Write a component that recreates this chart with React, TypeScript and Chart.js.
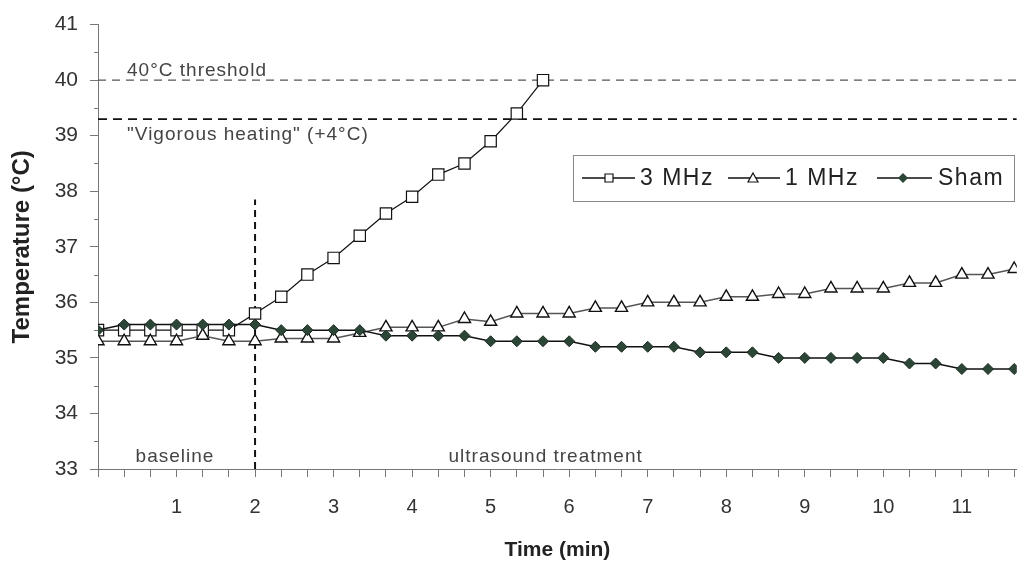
import React, { useEffect, useRef } from 'react';
import { Chart, registerables } from 'chart.js';

Chart.register(...registerables);

// ---- data ----
const TIME_S = [0, 20, 40, 60, 80, 100, 120, 140, 160, 180, 200, 220, 240, 260, 280, 300, 320, 340,
  360, 380, 400, 420, 440, 460, 480, 500, 520, 540, 560, 580, 600, 620, 640, 660, 680, 700];

const MHZ3 = [35.5, 35.5, 35.5, 35.5, 35.5, 35.5, 35.8, 36.1, 36.5, 36.8, 37.2, 37.6, 37.9, 38.3, 38.5, 38.9, 39.4, 40.0];

const MHZ1 = [35.3, 35.3, 35.3, 35.3, 35.4, 35.3, 35.3, 35.35, 35.35, 35.35, 35.45, 35.55, 35.55, 35.55,
  35.7, 35.65, 35.8, 35.8, 35.8, 35.9, 35.9, 36.0, 36.0, 36.0, 36.1, 36.1, 36.15, 36.15, 36.25, 36.25,
  36.25, 36.35, 36.35, 36.5, 36.5, 36.6];

const SHAM = [35.5, 35.6, 35.6, 35.6, 35.6, 35.6, 35.6, 35.5, 35.5, 35.5, 35.5, 35.4, 35.4, 35.4, 35.4,
  35.3, 35.3, 35.3, 35.3, 35.2, 35.2, 35.2, 35.2, 35.1, 35.1, 35.1, 35.0, 35.0, 35.0, 35.0, 35.0,
  34.9, 34.9, 34.8, 34.8, 34.8];

const Y_TICKS = [33, 34, 35, 36, 37, 38, 39, 40, 41];
const X_MIN = 0;
const X_MAX = 11.7;
const THRESHOLD = 40;
const VIGOROUS = 39.3;
const TREATMENT_START = 2;
const TREATMENT_LINE_TOP = 37.85;

const SERIES_NAMES = ['3 MHz', '1 MHz', 'Sham'];
const THRESHOLD_LABEL = '40°C threshold';
const VIGOROUS_LABEL = '"Vigorous heating" (+4°C)';
const BASELINE_LABEL = 'baseline';
const TREATMENT_LABEL = 'ultrasound treatment';

const FONT = '"Liberation Sans", Arial, Helvetica, sans-serif';
const SHAM_FILL = '#2b4536';

const toPoints = (vals: number[]) => vals.map((v, i) => ({ x: TIME_S[i] / 60, y: v }));

const extrasPlugin = {
  id: 'extras',
  afterDatasetsDraw(chart: any) {
    const { ctx, chartArea, scales } = chart;
    const xs = scales.x;
    const ys = scales.y;
    ctx.save();
    // minor y ticks
    ctx.strokeStyle = '#777';
    ctx.lineWidth = 1;
    for (let i = 0; i < Y_TICKS.length - 1; i++) {
      const v = (Y_TICKS[i] + Y_TICKS[i + 1]) / 2;
      const py = Math.round(ys.getPixelForValue(v)) + 0.5;
      ctx.beginPath();
      ctx.moveTo(chartArea.left - 4, py);
      ctx.lineTo(chartArea.left, py);
      ctx.stroke();
    }
    // annotation texts
    const texts = [
      { t: THRESHOLD_LABEL, x: 0.37, y: 40.17, align: 'left' },
      { t: VIGOROUS_LABEL, x: 0.37, y: 39.02, align: 'left' },
      { t: BASELINE_LABEL, x: 0.98, y: 33.22, align: 'center' },
      { t: TREATMENT_LABEL, x: 5.7, y: 33.22, align: 'center' },
    ];
    ctx.fillStyle = '#444';
    ctx.font = `19px ${FONT}`;
    (ctx as any).letterSpacing = '1px';
    ctx.textBaseline = 'middle';
    for (const a of texts) {
      ctx.textAlign = a.align;
      ctx.fillText(a.t, xs.getPixelForValue(a.x), ys.getPixelForValue(a.y));
    }
    ctx.restore();
  },
  afterDraw(chart: any) {
    const { ctx } = chart;
    ctx.save();
    // legend box
    const bx = 573, by = 155, bw = 441, bh = 46;
    ctx.fillStyle = '#fff';
    ctx.fillRect(bx, by, bw, bh);
    ctx.strokeStyle = '#888';
    ctx.lineWidth = 1;
    ctx.strokeRect(bx + 0.5, by + 0.5, bw, bh);
    const cy = by + bh / 2;
    const items = [
      { l0: 582, l1: 635, m: 609, tx: 640, style: 'rect' },
      { l0: 728, l1: 780, m: 753, tx: 785, style: 'triangle' },
      { l0: 877, l1: 932, m: 903, tx: 938, style: 'rectRot' },
    ];
    items.forEach((it, i) => {
      ctx.strokeStyle = '#111';
      ctx.lineWidth = 1.5;
      ctx.beginPath();
      ctx.moveTo(it.l0, cy);
      ctx.lineTo(it.l1, cy);
      ctx.stroke();
      ctx.beginPath();
      if (it.style === 'rect') {
        ctx.fillStyle = '#fff';
        ctx.rect(it.m - 4, cy - 4, 8, 8);
        ctx.fill();
        ctx.lineWidth = 1.2;
        ctx.stroke();
      } else if (it.style === 'triangle') {
        ctx.fillStyle = '#fff';
        ctx.moveTo(it.m, cy - 5);
        ctx.lineTo(it.m + 5, cy + 4);
        ctx.lineTo(it.m - 5, cy + 4);
        ctx.closePath();
        ctx.fill();
        ctx.lineWidth = 1.2;
        ctx.stroke();
      } else {
        ctx.fillStyle = SHAM_FILL;
        ctx.moveTo(it.m, cy - 5);
        ctx.lineTo(it.m + 5, cy);
        ctx.lineTo(it.m, cy + 5);
        ctx.lineTo(it.m - 5, cy);
        ctx.closePath();
        ctx.fill();
      }
      ctx.fillStyle = '#222';
      ctx.font = `23px ${FONT}`;
      (ctx as any).letterSpacing = '1.5px';
      ctx.textAlign = 'left';
      ctx.textBaseline = 'middle';
      ctx.fillText(SERIES_NAMES[i], it.tx, cy + 1);
      (ctx as any).letterSpacing = '0px';
    });
    ctx.restore();
  },
};

export default function App() {
  const canvasRef = useRef<HTMLCanvasElement | null>(null);

  useEffect(() => {
    const canvas = canvasRef.current;
    if (!canvas) return;
    const chart = new Chart(canvas, {
      type: 'line',
      data: {
        datasets: [
          {
            label: SERIES_NAMES[2],
            data: toPoints(SHAM),
            borderColor: '#111',
            borderWidth: 1.5,
            pointStyle: 'rectRot',
            pointRadius: 5.5,
            pointBackgroundColor: SHAM_FILL,
            pointBorderColor: '#1c2c22',
            pointBorderWidth: 1,
            order: 0,
          },
          {
            label: SERIES_NAMES[1],
            data: toPoints(MHZ1),
            borderColor: '#555',
            borderWidth: 1.5,
            pointStyle: 'triangle',
            pointRadius: 7,
            pointBackgroundColor: '#fff',
            pointBorderColor: '#111',
            pointBorderWidth: 1.4,
            order: 1,
          },
          {
            label: SERIES_NAMES[0],
            data: toPoints(MHZ3),
            borderColor: '#111',
            borderWidth: 1.2,
            pointStyle: 'rect',
            pointRadius: 8,
            pointBackgroundColor: '#fff',
            pointBorderColor: '#111',
            pointBorderWidth: 1.2,
            order: 2,
          },
          {
            label: 'threshold',
            data: [{ x: X_MIN, y: THRESHOLD }, { x: X_MAX, y: THRESHOLD }],
            borderColor: '#555',
            borderWidth: 1.3,
            borderDash: [8, 6],
            pointRadius: 0,
            order: 3,
          },
          {
            label: 'vigorous',
            data: [{ x: X_MIN, y: VIGOROUS }, { x: X_MAX, y: VIGOROUS }],
            borderColor: '#111',
            borderWidth: 1.8,
            borderDash: [9, 6],
            pointRadius: 0,
            order: 3,
          },
          {
            label: 'start',
            data: [{ x: TREATMENT_START, y: Y_TICKS[0] }, { x: TREATMENT_START, y: TREATMENT_LINE_TOP }],
            borderColor: '#111',
            borderWidth: 2,
            borderDash: [7, 5],
            pointRadius: 0,
            order: 3,
          },
        ],
      },
      options: {
        animation: false,
        responsive: true,
        maintainAspectRatio: false,
        devicePixelRatio: 1,
        layout: { padding: { top: 20, right: 6, left: 0, bottom: 0 } },
        plugins: {
          legend: { display: false },
          tooltip: { enabled: false },
        },
        elements: { line: { tension: 0 } },
        scales: {
          x: {
            type: 'linear',
            min: X_MIN,
            max: X_MAX,
            afterBuildTicks: (scale: any) => {
              scale.ticks = TIME_S.map((s) => ({ value: s / 60 }));
            },
            afterFit: (scale: any) => {
              scale.height = 107;
            },
            ticks: {
              autoSkip: false,
              maxRotation: 0,
              padding: 4,
              color: '#333',
              font: { family: FONT, size: 20, lineHeight: 2.6 },
              callback: (value: any) => {
                const r = Math.round(value);
                return Math.abs(value - r) < 1e-6 && r > 0 ? String(r) : '';
              },
            },
            grid: {
              display: true,
              drawOnChartArea: false,
              drawTicks: true,
              tickLength: 8,
              color: '#777',
            },
            border: { display: true, color: '#777', width: 1 },
            title: {
              display: true,
              text: 'Time (min)',
              color: '#222',
              font: { family: FONT, size: 21, weight: 'bold' },
              padding: { top: 0, bottom: 13 },
            },
          },
          y: {
            type: 'linear',
            min: Y_TICKS[0],
            max: Y_TICKS[Y_TICKS.length - 1],
            afterBuildTicks: (scale: any) => {
              scale.ticks = Y_TICKS.map((v) => ({ value: v }));
            },
            afterFit: (scale: any) => {
              scale.width = 98;
            },
            ticks: {
              padding: 12,
              color: '#333',
              font: { family: FONT, size: 21 },
              callback: (value: any) => String(value),
            },
            grid: {
              display: true,
              drawOnChartArea: false,
              drawTicks: true,
              tickLength: 8,
              color: '#777',
            },
            border: { display: true, color: '#777', width: 1 },
            title: {
              display: true,
              text: 'Temperature (°C)',
              color: '#222',
              font: { family: FONT, size: 24, weight: 'bold' },
              padding: { top: 8, bottom: 0 },
            },
          },
        },
      },
      plugins: [extrasPlugin],
    } as any);
    return () => chart.destroy();
  }, []);

  return (
    <div style={{ position: 'fixed', left: 0, top: 0, width: 1026, height: 576, background: '#fff' }}>
      <canvas ref={canvasRef} />
    </div>
  );
}
